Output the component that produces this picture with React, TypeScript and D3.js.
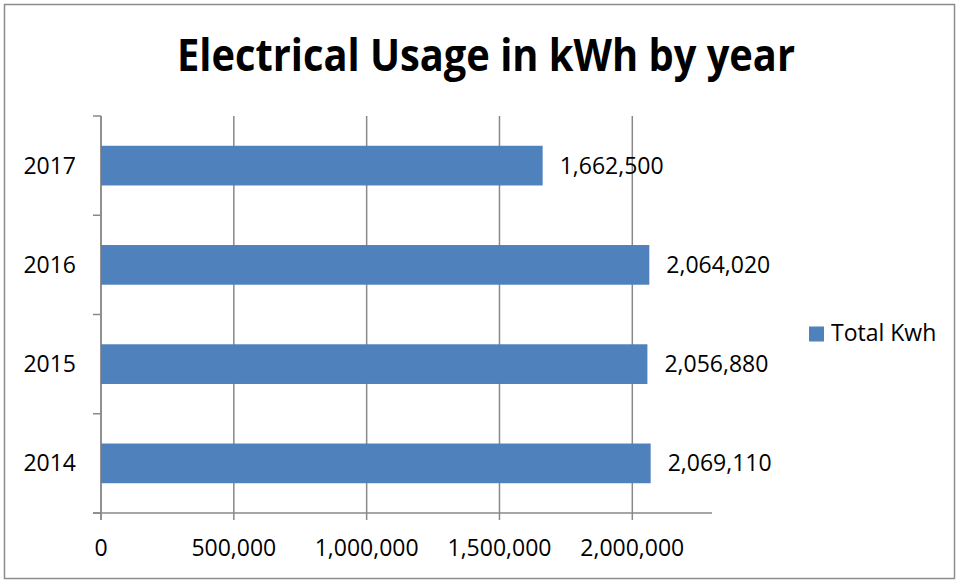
import React from "react";
import * as d3 from "d3";

const years = ["2014", "2015", "2016", "2017"];
const totalKwh = [2069110, 2056880, 2064020, 1662500];
const xTicks = [0, 500000, 1000000, 1500000, 2000000];
const seriesName = "Total Kwh";
const title = "Electrical Usage in kWh by year";

const W = 958;
const H = 580;
const plot = { left: 101, right: 712, top: 116, bottom: 513 };
const BAR = "#4F81BD";
const GRID = "#898989";
const FONT = "'Open Sans', sans-serif";

export default function App() {
  const x = d3.scaleLinear().domain([0, 2300000]).range([plot.left, plot.right]);
  // categories bottom-to-top: 2014 at bottom
  const y = d3
    .scaleBand<string>()
    .domain([...years].reverse())
    .range([plot.top, plot.bottom])
    .paddingInner(0.6)
    .paddingOuter(0.3);
  const step = y.step();
  const fmt = d3.format(",");
  const boundaries = d3.range(years.length + 1).map((i) => plot.top + i * step);

  return (
    <svg
      width={W}
      height={H}
      style={{ position: "absolute", left: 0, top: 0, background: "#fff" }}
      fontFamily={FONT}
    >
      <rect x={0} y={0} width={W} height={H} fill="#fff" />
      <rect x={4.5} y={4.5} width={950} height={574} fill="none" stroke="#8c8c8c" strokeWidth={1.5} />
      <text
        x={486}
        y={71}
        textAnchor="middle"
        fontSize={45}
        fontWeight="bold"
        textLength={618}
        lengthAdjust="spacingAndGlyphs"
        fill="#000"
      >
        {title}
      </text>

      {/* vertical gridlines */}
      {xTicks.map((t) => (
        <line key={"g" + t} x1={x(t)} x2={x(t)} y1={plot.top} y2={plot.bottom + 7} stroke={GRID} strokeWidth={1.5} />
      ))}
      {/* x axis line */}
      <line x1={plot.left - 8} x2={plot.right} y1={plot.bottom} y2={plot.bottom} stroke={GRID} strokeWidth={1.5} />
      {/* y axis line + ticks */}
      <line x1={plot.left} x2={plot.left} y1={plot.top} y2={plot.bottom + 7} stroke={GRID} strokeWidth={1.5} />
      {boundaries.map((b, i) => (
        <line key={"yt" + i} x1={plot.left - 8} x2={plot.left} y1={b} y2={b} stroke={GRID} strokeWidth={1.5} />
      ))}

      {/* bars */}
      {years.map((yr, i) => (
        <rect
          key={yr}
          x={x(0)}
          y={y(yr)!}
          width={x(totalKwh[i]) - x(0)}
          height={y.bandwidth()}
          fill={BAR}
        />
      ))}

      {/* data labels */}
      {years.map((yr, i) => (
        <text
          key={"l" + yr}
          x={x(totalKwh[i]) + 17}
          y={y(yr)! + y.bandwidth() / 2}
          dy="0.35em"
          fontSize={23}
          fill="#000"
        >
          {fmt(totalKwh[i])}
        </text>
      ))}

      {/* y labels */}
      {years.map((yr) => (
        <text
          key={"y" + yr}
          x={76}
          y={y(yr)! + y.bandwidth() / 2}
          dy="0.35em"
          textAnchor="end"
          fontSize={23}
          fill="#000"
        >
          {yr}
        </text>
      ))}

      {/* x labels */}
      {xTicks.map((t) => (
        <text key={"x" + t} x={x(t)} y={556} textAnchor="middle" fontSize={23} fill="#000">
          {fmt(t)}
        </text>
      ))}

      {/* legend */}
      <rect x={809} y={326.5} width={15} height={15} fill={BAR} />
      <text x={831} y={341} fontSize={23} fill="#000">
        {seriesName}
      </text>
    </svg>
  );
}
